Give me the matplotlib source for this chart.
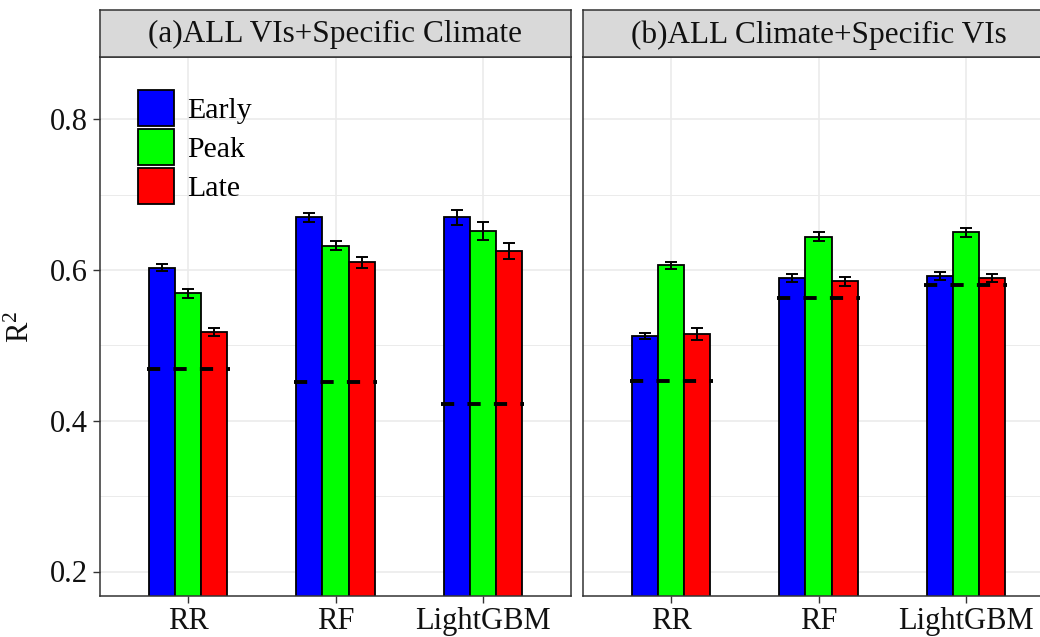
import matplotlib
matplotlib.use("Agg")
import matplotlib.pyplot as plt
from matplotlib.patches import Patch
import numpy as np

plt.rcParams['font.family'] = ['Liberation Serif', 'DejaVu Serif']
plt.rcParams['mathtext.fontset'] = 'custom'
plt.rcParams['mathtext.rm'] = 'Liberation Serif'
plt.rcParams['mathtext.it'] = 'Liberation Serif'

models = ['RR', 'RF', 'LightGBM']
phases = ['Early', 'Peak', 'Late']
colors = ['#0000FF', '#00FF00', '#FF0000']
panel_titles = ['(a)ALL VIs+Specific Climate', '(b)ALL Climate+Specific VIs']

# Panel (a)
early_a = [0.603, 0.670, 0.670]
peak_a = [0.569, 0.632, 0.652]
late_a = [0.518, 0.610, 0.625]
early_a_err = [0.005, 0.006, 0.010]
peak_a_err = [0.006, 0.006, 0.012]
late_a_err = [0.005, 0.007, 0.011]
baseline_a = [0.469, 0.451, 0.422]

# Panel (b)
early_b = [0.513, 0.589, 0.592]
peak_b = [0.606, 0.644, 0.650]
late_b = [0.515, 0.585, 0.589]
early_b_err = [0.004, 0.005, 0.005]
peak_b_err = [0.005, 0.006, 0.006]
late_b_err = [0.008, 0.006, 0.005]
baseline_b = [0.453, 0.563, 0.580]

yticks = [0.2, 0.4, 0.6, 0.8]
yminor = [0.3, 0.5, 0.7]

panels = [
    ([early_a, peak_a, late_a], [early_a_err, peak_a_err, late_a_err], baseline_a),
    ([early_b, peak_b, late_b], [early_b_err, peak_b_err, late_b_err], baseline_b),
]

W, H = 1040, 637
fig = plt.figure(figsize=(W / 100, H / 100), dpi=100)

ax_left_px = [100, 583]
ax_w_px = 471
ax_top_px, ax_bot_px = 57, 596
strip_top_px = 10

bar_w = 0.177
offsets = [-bar_w, 0, bar_w]
text_col = '#111111'
border_col = '#333333'

for pi, (vals, errs, base) in enumerate(panels):
    l = ax_left_px[pi] / W
    b = (H - ax_bot_px) / H
    w = ax_w_px / W
    h = (ax_bot_px - ax_top_px) / H
    ax = fig.add_axes([l, b, w, h])
    x = np.arange(1, len(models) + 1)
    ax.set_xlim(0.4, 3.6)
    ax.set_ylim(0.1675, 0.8825)
    # grid
    for yv in yminor:
        ax.axhline(yv, color='#EBEBEB', lw=0.7, zorder=0)
    for yv in yticks:
        ax.axhline(yv, color='#EBEBEB', lw=1.2, zorder=0)
    for xv in x:
        ax.axvline(xv, color='#EBEBEB', lw=1.2, zorder=0)
    for si in range(3):
        ax.bar(x + offsets[si], vals[si], width=bar_w, color=colors[si],
               edgecolor='black', linewidth=1.3, zorder=2, label=phases[si])
        ax.errorbar(x + offsets[si], vals[si], yerr=errs[si], fmt='none',
                    ecolor='black', elinewidth=1.4, capsize=4, capthick=1.4, zorder=3)
    for xi, bv in zip(x, base):
        ax.plot([xi - 0.28, xi + 0.28], [bv, bv], color='black', lw=2.8,
                linestyle=(0, (3.4, 3.4)), dash_capstyle='butt', zorder=4)
    for sp in ax.spines.values():
        sp.set_color(border_col)
        sp.set_linewidth(1.1)
    ax.set_xticks(x)
    ax.set_xticklabels(models, fontsize=22, color=text_col)
    ax.tick_params(axis='x', length=5, width=1.0, color=border_col, pad=3)
    if pi == 0:
        ax.set_yticks(yticks)
        ax.set_yticklabels(['%.1f' % v for v in yticks], fontsize=22, color=text_col)
        ax.tick_params(axis='y', length=5, width=1.0, color=border_col, pad=4)
        ax.set_ylabel(r'R$^2$', fontsize=22, color=text_col, labelpad=10)
        ax.legend(handles=[Patch(facecolor=c, edgecolor='black', linewidth=1.3, label=p)
                           for c, p in zip(colors, phases)],
                  loc='upper left', bbox_to_anchor=(0.081, 0.939), frameon=False,
                  fontsize=21.5, handlelength=1.2, handleheight=1.5,
                  labelspacing=0.08, borderpad=0, borderaxespad=0, handletextpad=0.45)
    else:
        ax.set_yticks([])
    # strip
    sb = (H - ax_top_px) / H
    sh = (ax_top_px - strip_top_px) / H
    sax = fig.add_axes([l, sb, w, sh])
    sax.set_facecolor('#D9D9D9')
    sax.set_xticks([])
    sax.set_yticks([])
    for sp in sax.spines.values():
        sp.set_color(border_col)
        sp.set_linewidth(1.1)
    sax.text(0.5, 0.47, panel_titles[pi], ha='center', va='center',
             fontsize=22.5, color=text_col, transform=sax.transAxes)

fig.savefig('out.png', dpi=100)
